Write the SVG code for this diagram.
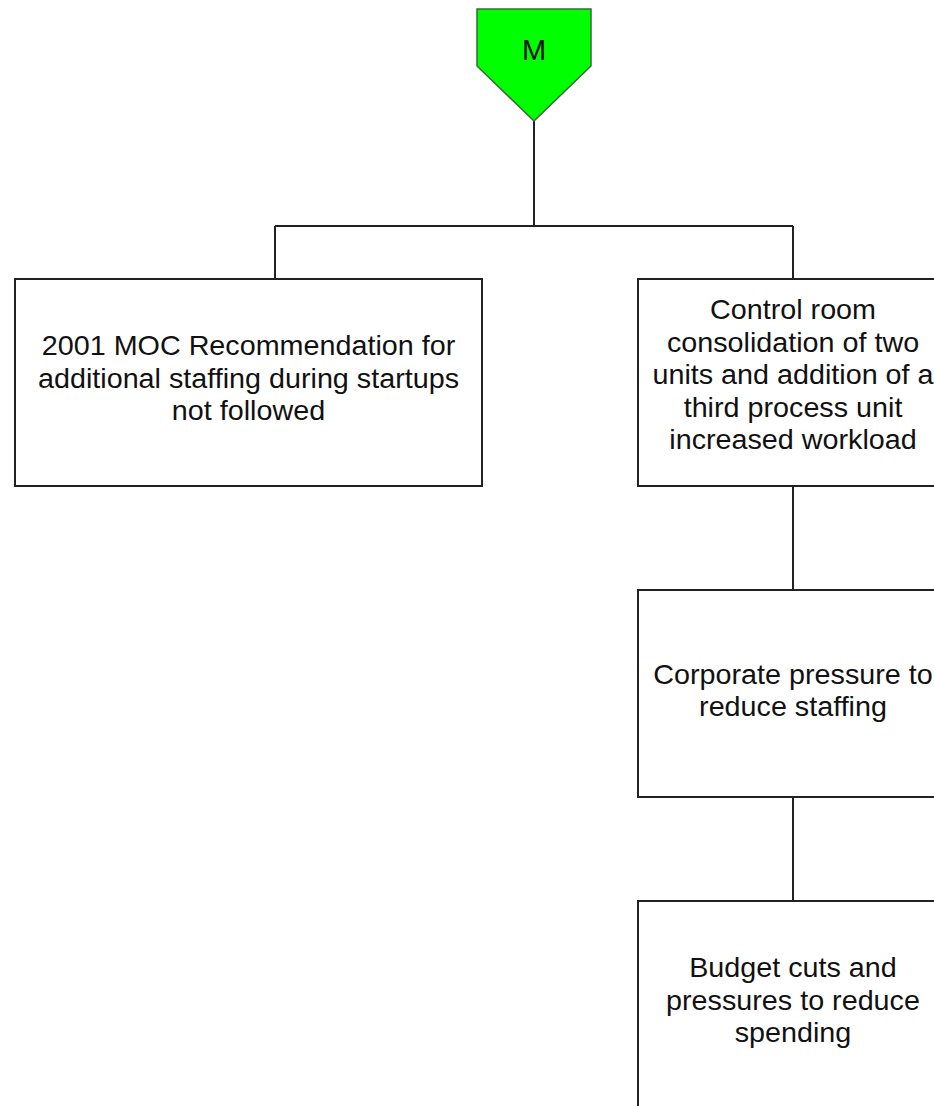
<svg xmlns="http://www.w3.org/2000/svg" width="934" height="1106" viewBox="0 0 934 1106">
<style>
.box{fill:#ffffff;stroke:#222222;stroke-width:2}
.lbl{font-family:"Liberation Sans",Arial,sans-serif;font-size:27.5px;fill:#111111;text-anchor:middle}
.conn{fill:none;stroke:#222222;stroke-width:2}
</style>
<rect x="0" y="0" width="934" height="1106" fill="#ffffff"/>
<g id="connectors">
<path class="conn" d="M534,121 V226 M275,226 H793 M275,226 V279 M793,226 V279 M793,486 V590 M793,797 V901"/>
</g>
<g id="node-M">
<polygon points="477,9 591,9 591,66 534,121 477,66" fill="#00ff00" stroke="#3a6a3a" stroke-width="1.5"/>
<text class="lbl" x="534" y="59.5" style="font-size:29px">M</text>
</g>
<g id="node-moc">
<rect class="box" x="15" y="279" width="467" height="207"/>
<g transform="translate(248.5,0) scale(1.045,1)">
<text class="lbl" x="0" y="355.5">2001 MOC Recommendation for</text>
<text class="lbl" x="0" y="388">additional staffing during startups</text>
<text class="lbl" x="0" y="420.5">not followed</text>
</g>
</g>
<g id="node-control-room">
<rect class="box" x="638" y="279" width="311" height="207"/>
<g transform="translate(793,0) scale(1.045,1)">
<text class="lbl" x="0" y="319.5">Control room</text>
<text class="lbl" x="0" y="352">consolidation of two</text>
<text class="lbl" x="0" y="384.5">units and addition of a</text>
<text class="lbl" x="0" y="417">third process unit</text>
<text class="lbl" x="0" y="449.5">increased workload</text>
</g>
</g>
<g id="node-corporate">
<rect class="box" x="638" y="590" width="311" height="207"/>
<g transform="translate(793,0) scale(1.045,1)">
<text class="lbl" x="0" y="684">Corporate pressure to</text>
<text class="lbl" x="0" y="716.5">reduce staffing</text>
</g>
</g>
<g id="node-budget">
<rect class="box" x="638" y="901" width="311" height="207"/>
<g transform="translate(793,0) scale(1.045,1)">
<text class="lbl" x="0" y="977.5">Budget cuts and</text>
<text class="lbl" x="0" y="1010">pressures to reduce</text>
<text class="lbl" x="0" y="1042.5">spending</text>
</g>
</g>
</svg>
